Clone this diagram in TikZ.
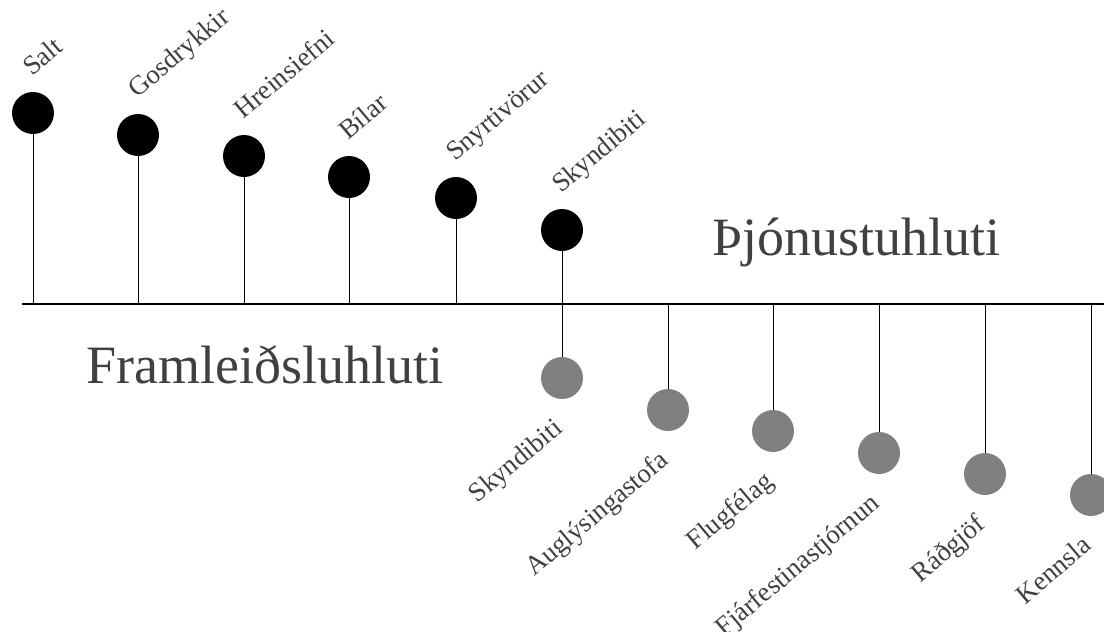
\documentclass[tikz,border=0pt]{standalone}
\usepackage{fontspec}
\setmainfont{Liberation Serif}
\usetikzlibrary{positioning}
\definecolor{dotgray}{HTML}{808080}
\definecolor{txtgray}{HTML}{404040}

\begin{document}
\begin{tikzpicture}[x=1pt, y=1pt,
          dot/.style={circle, fill=black, minimum size=42pt, inner sep=0pt},
          gdot/.style={dot, fill=dotgray},
          lbl/.style={text=txtgray, font=\fontsize{27}{27}\selectfont, rotate=40, inner sep=0pt},
          sector/.style={text=txtgray, font=\fontsize{54}{54}\selectfont, inner sep=0pt, anchor=base west}]
        \useasboundingbox (0,0) rectangle (1104,-632);
        \coordinate (axl) at (22,-304);
        \coordinate (axr) at (1104,-304);
        \draw[line width=1.5pt] (axl) -- (axr);
        % goods, above the line
        \foreach \n/\x/\y/\t in {1/33/113/Salt, 2/138/135/Gosdrykkir, 3/244/156/Hreinsiefni,
                                 4/349/177/Bílar, 5/456/198/Snyrtivörur, 6/562/230/Skyndibiti} {
          \node[dot] (t\n) at (\x,-\y) {};
          \draw[line width=1pt] (t\n) -- (t\n |- axl);
          \node[lbl, anchor=base west] at ([xshift=-1pt, yshift=36pt]t\n.center) {\t};
        }
        % services, below the line
        \foreach \n/\x/\y/\t in {1/562/378/Skyndibiti, 2/668/410/Auglýsingastofa, 3/773/431/Flugfélag,
                                 4/879/453/Fjárfestinastjórnun, 5/985/474/Ráðgjöf, 6/1091/495/Kennsla} {
          \node[gdot] (b\n) at (\x,-\y) {};
          \draw[line width=1pt] (b\n) -- (b\n |- axl);
          \node[lbl, anchor=base east] at ([xshift=2pt, yshift=-53pt]b\n.center) {\t};
        }
        \node[sector] (svc) at (712,-255) {Þjónustuhluti};
        \node[sector] (prd) at (86,-383) {Framleiðsluhluti};
      \end{tikzpicture}
\end{document}
